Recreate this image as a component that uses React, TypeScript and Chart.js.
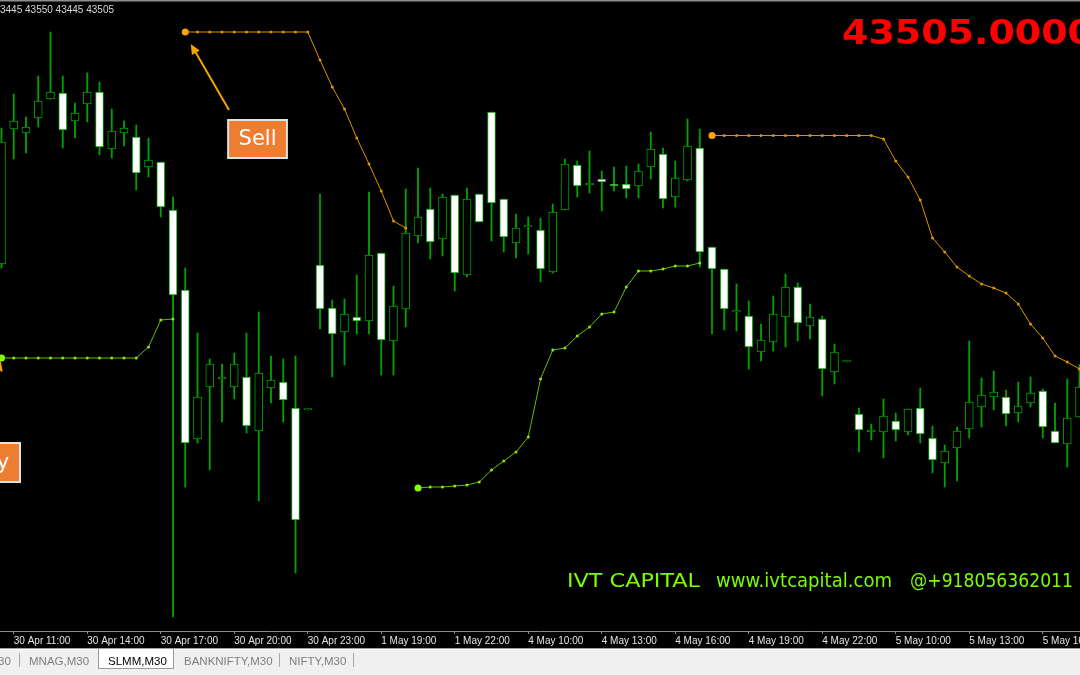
import React, { useEffect, useRef } from "react";
import { Chart, registerables } from "chart.js";

Chart.register(...registerables);

// ---------------- data (SLMM, M30) ----------------
const OPEN = [
  43751, 44021, 44013, 44043, 44081, 44093, 44037, 44071, 44095, 43981,
  44013, 44005, 43945, 43955, 43859, 43699, 43401, 43505, 43521, 43505,
  43525, 43417, 43503, 43515, 43463, 43459, 43749, 43663, 43615, 43645,
  43637, 43773, 43597, 43661, 43807, 43861, 43801, 43889, 43729, 43891,
  44055, 43881, 43793, 43825, 43819, 43735, 43859, 43949, 43909, 43921,
  43911, 43911, 43907, 43945, 43971, 43885, 43919, 43983, 43785, 43741,
  43655, 43647, 43575, 43595, 43645, 43705, 43627, 43641, 43535, 43555,
  43451, 43415, 43415, 43437, 43415, 43463, 43403, 43353, 43383, 43421,
  43465, 43485, 43485, 43453, 43473, 43497, 43417, 43391, 43445,
];
const HIGH = [
  44023, 44091, 44045, 44127, 44215, 44127, 44073, 44133, 44115, 44061,
  44037, 44029, 44003, 43955, 43885, 43743, 43613, 43561, 43551, 43573,
  43613, 43655, 43567, 43561, 43567, 43459, 43891, 43679, 43681, 43729,
  43895, 43773, 43707, 43901, 43943, 43903, 43891, 43889, 43903, 43891,
  44055, 43881, 43851, 43845, 43843, 43871, 43961, 43957, 43977, 43937,
  43945, 43947, 43951, 44015, 43983, 43957, 44041, 44021, 43785, 43741,
  43711, 43677, 43631, 43687, 43731, 43713, 43671, 43647, 43591, 43555,
  43463, 43431, 43481, 43453, 43461, 43503, 43427, 43389, 43425, 43597,
  43523, 43537, 43499, 43515, 43525, 43501, 43473, 43521, 43550,
];
const LOW = [
  43743, 43961, 43973, 44025, 44081, 43983, 44003, 44035, 43969, 43963,
  43987, 43899, 43925, 43845, 43045, 43305, 43393, 43339, 43435, 43481,
  43413, 43277, 43473, 43435, 43133, 43459, 43621, 43525, 43549, 43611,
  43611, 43529, 43529, 43625, 43793, 43761, 43767, 43697, 43725, 43835,
  43797, 43775, 43763, 43771, 43715, 43733, 43859, 43885, 43893, 43857,
  43897, 43883, 43883, 43921, 43863, 43865, 43917, 43745, 43611, 43619,
  43617, 43541, 43557, 43577, 43585, 43597, 43601, 43487, 43511, 43555,
  43375, 43399, 43363, 43397, 43409, 43393, 43333, 43305, 43317, 43403,
  43425, 43459, 43427, 43435, 43465, 43403, 43393, 43345, 43445,
];
const CLOSE = [
  43995, 44037, 44025, 44077, 44095, 44019, 44053, 44095, 43985, 44017,
  44023, 43933, 43959, 43865, 43689, 43393, 43485, 43551, 43525, 43551,
  43427, 43533, 43519, 43479, 43239, 43459, 43661, 43611, 43651, 43637,
  43769, 43599, 43667, 43813, 43845, 43795, 43885, 43733, 43881, 43835,
  43873, 43805, 43823, 43827, 43741, 43855, 43951, 43907, 43913, 43915,
  43907, 43901, 43937, 43981, 43881, 43923, 43987, 43775, 43741, 43661,
  43655, 43585, 43599, 43651, 43705, 43633, 43645, 43541, 43575, 43555,
  43419, 43419, 43447, 43419, 43461, 43411, 43359, 43377, 43417, 43475,
  43489, 43495, 43451, 43467, 43493, 43425, 43393, 43443, 43505,
];

// time axis (bar index of each labelled bar, and its text)
const TICK_INDEX = [1, 7, 13, 19, 25, 31, 37, 43, 49, 55, 61, 67, 73, 79, 85];
const TICK_LABELS = [
  "30 Apr 11:00", "30 Apr 14:00", "30 Apr 17:00", "30 Apr 20:00", "30 Apr 23:00",
  "1 May 19:00", "1 May 22:00", "4 May 10:00", "4 May 13:00", "4 May 16:00",
  "4 May 19:00", "4 May 22:00", "5 May 10:00", "5 May 13:00", "5 May 16:00",
];

// indicator lines (sell stop = orange, buy stop = green)
const SELL1_START = 15;
const SELL1 = [
  44215, 44215, 44215, 44215, 44215, 44215, 44215, 44215, 44215, 44215, 44215,
  44159, 44105, 44061, 44003, 43951, 43897, 43837, 43823,
];
const SELL2_START = 58;
const SELL2 = [
  44008, 44008, 44008, 44008, 44008, 44008, 44008, 44008, 44008, 44008, 44008, 44008, 44008, 44008,
  44001, 43957, 43925, 43879, 43803, 43775, 43745, 43727, 43711, 43703, 43693, 43671, 43631,
  43603, 43567, 43555, 43541,
];
const BUY1_START = 0;
const BUY1 = [
  43563, 43563, 43563, 43563, 43563, 43563, 43563, 43563, 43563, 43563, 43563, 43563,
  43585, 43639, 43641,
];
const BUY2_START = 34;
const BUY2 = [
  43303, 43305, 43305, 43307, 43309, 43315, 43339, 43357, 43375, 43405, 43521, 43579,
  43583, 43607, 43625, 43651, 43655, 43705, 43737, 43737, 43741, 43747, 43747, 43753,
];

// texts
const HEADER_TEXT = "3445 43550 43445 43505";
const LAST_PRICE_TEXT = "43505.0000";
const WATERMARK_TEXTS = ["IVT CAPITAL", "www.ivtcapital.com", "@+918056362011"];
const TAB_TEXTS = ["30", "MNAG,M30", "SLMM,M30", "BANKNIFTY,M30", "NIFTY,M30"];

// annotation anchors in data coordinates (bar index / price)
const SELL_LABEL = { text: "Sell", x0: 18.5, x1: 23.3, yTop: 44039, yBottom: 43963 };
const SELL_ARROW = { x0: 18.57, y0: 44059, x1: 15.45, y1: 44191 };
const BUY_LABEL = { text: "Buy", x0: -3.55, x1: 1.51, yTop: 43393, yBottom: 43315 };
const BUY_ARROW = { x0: -1.8, y0: 43395, x1: -0.05, y1: 43557 };

// ---------------- layout / style ----------------
const W = 1080;
const H = 675;
const BAR0_PX = 1.5;
const BAR_STEP_PX = 12.25;
const PRICE_AT_ZERO_PX = 44279;
const PRICE_PER_PX = 2;

const CANDLE_GREEN = "#00A000";
const ORANGE_LINE = "#D99400";
const ORANGE_DOT = "#FFA500";
const GREEN_LINE = "#62BC00";
const GREEN_DOT = "#8FE600";
const ARROW_ORANGE = "#F5A300";
const BOX_ORANGE = "#ED7D31";

function drawArrow(ctx: CanvasRenderingContext2D, x1: number, y1: number, x2: number, y2: number) {
  const ang = Math.atan2(y2 - y1, x2 - x1);
  const head = 10;
  const hw = 4.5;
  ctx.save();
  ctx.strokeStyle = ARROW_ORANGE;
  ctx.fillStyle = ARROW_ORANGE;
  ctx.lineWidth = 2;
  ctx.beginPath();
  ctx.moveTo(x1, y1);
  ctx.lineTo(x2 - head * 0.7 * Math.cos(ang), y2 - head * 0.7 * Math.sin(ang));
  ctx.stroke();
  const bx = x2 - head * Math.cos(ang);
  const by = y2 - head * Math.sin(ang);
  ctx.beginPath();
  ctx.moveTo(x2, y2);
  ctx.lineTo(bx + hw * Math.sin(ang), by - hw * Math.cos(ang));
  ctx.lineTo(bx - hw * Math.sin(ang), by + hw * Math.cos(ang));
  ctx.closePath();
  ctx.fill();
  ctx.restore();
}

function drawLabelBox(ctx: CanvasRenderingContext2D, xs: any, ys: any, box: any) {
  const l = xs.getPixelForValue(box.x0);
  const r = xs.getPixelForValue(box.x1);
  const t = ys.getPixelForValue(box.yTop);
  const b = ys.getPixelForValue(box.yBottom);
  ctx.save();
  ctx.fillStyle = BOX_ORANGE;
  ctx.fillRect(l, t, r - l, b - t);
  ctx.strokeStyle = "#E2E2E2";
  ctx.lineWidth = 2;
  ctx.strokeRect(l, t, r - l, b - t);
  ctx.fillStyle = "#FFFFFF";
  ctx.font = '21px "DejaVu Sans"';
  ctx.textAlign = "center";
  ctx.textBaseline = "middle";
  ctx.fillText(box.text, (l + r) / 2, (t + b) / 2 + 1);
  ctx.restore();
}

function fitText(ctx: CanvasRenderingContext2D, text: string, x: number, y: number, width: number) {
  const nat = ctx.measureText(text).width;
  ctx.save();
  ctx.translate(x, y);
  ctx.scale(width / nat, 1);
  ctx.fillText(text, 0, 0);
  ctx.restore();
}

const overlayPlugin = {
  id: "mt4Overlay",
  beforeDraw(chart: any) {
    const ctx = chart.ctx;
    ctx.save();
    ctx.fillStyle = "#000000";
    ctx.fillRect(0, 0, chart.width, chart.height);
    ctx.restore();
  },
  afterDatasetsDraw(chart: any) {
    const ctx = chart.ctx as CanvasRenderingContext2D;
    const xs = chart.scales.x;
    const ys = chart.scales.y;
    drawArrow(ctx, xs.getPixelForValue(SELL_ARROW.x0), ys.getPixelForValue(SELL_ARROW.y0),
      xs.getPixelForValue(SELL_ARROW.x1), ys.getPixelForValue(SELL_ARROW.y1));
    drawArrow(ctx, xs.getPixelForValue(BUY_ARROW.x0), ys.getPixelForValue(BUY_ARROW.y0),
      xs.getPixelForValue(BUY_ARROW.x1), ys.getPixelForValue(BUY_ARROW.y1));
    drawLabelBox(ctx, xs, ys, SELL_LABEL);
    drawLabelBox(ctx, xs, ys, BUY_LABEL);
  },
  afterDraw(chart: any) {
    const ctx = chart.ctx as CanvasRenderingContext2D;
    ctx.save();
    // top frame line
    ctx.fillStyle = "#8E8E8E";
    ctx.fillRect(0, 0, W, 1.5);
    // header OHLC
    ctx.fillStyle = "#D6D6D6";
    ctx.font = '10px "Liberation Sans"';
    ctx.textAlign = "left";
    ctx.textBaseline = "alphabetic";
    ctx.fillText(HEADER_TEXT, 0, 12.5);
    // last price
    ctx.fillStyle = "#FF0000";
    ctx.font = 'bold 34px "DejaVu Sans"';
    fitText(ctx, LAST_PRICE_TEXT, 842, 44, 252);
    // watermark
    ctx.fillStyle = "#7CFC00";
    ctx.font = '20px "DejaVu Sans"';
    fitText(ctx, WATERMARK_TEXTS[0], 567, 587, 133);
    fitText(ctx, WATERMARK_TEXTS[1], 716, 587, 176);
    fitText(ctx, WATERMARK_TEXTS[2], 910, 587, 163);
    // tab bar
    ctx.fillStyle = "#F0F0F0";
    ctx.fillRect(0, 648, W, H - 648);
    ctx.fillStyle = "#A0A0A0";
    ctx.fillRect(0, 648, W, 1);
    ctx.fillStyle = "#FFFFFF";
    ctx.fillRect(0, 649, W, 1);
    // selected tab
    ctx.fillStyle = "#FFFFFF";
    ctx.fillRect(98, 649, 76, 20);
    ctx.fillStyle = "#9A9A9A";
    ctx.fillRect(98, 649, 1, 20);
    ctx.fillRect(173, 649, 1, 20);
    ctx.fillRect(98, 668, 76, 1);
    // separators
    ctx.fillStyle = "#A8A8A8";
    [19, 279, 353].forEach((x) => ctx.fillRect(x, 653, 1, 14));
    ctx.font = '11.5px "Liberation Sans"';
    const tabX = [-2, 29, 108, 184, 289];
    TAB_TEXTS.forEach((t, i) => {
      ctx.fillStyle = i === 2 ? "#000000" : "#7E7E7E";
      ctx.fillText(t, tabX[i], 665);
    });
    ctx.restore();
  },
};

export default function App() {
  const ref = useRef<HTMLCanvasElement | null>(null);

  useEffect(() => {
    const canvas = ref.current;
    if (!canvas) return;
    const idx = OPEN.map((_, i) => i);
    const bull = idx.map((i) => CLOSE[i] >= OPEN[i]);
    const wickData = idx.map((i) => ({ x: i, y: [LOW[i], HIGH[i]] }));
    const bodyData = idx.map((i) => ({ x: i, y: [OPEN[i], CLOSE[i]] }));
    const lineData = (start: number, arr: number[]) => arr.map((v, k) => ({ x: start + k, y: v }));
    const lineDs = (label: string, start: number, arr: number[], line: string, dot: string, big: string) => ({
      type: "line" as const,
      label,
      data: lineData(start, arr),
      borderColor: line,
      borderWidth: 1,
      tension: 0,
      pointRadius: (c: any) => (c.dataIndex === 0 ? 3.5 : 1.5),
      pointBackgroundColor: (c: any) => (c.dataIndex === 0 ? big : dot),
      pointBorderWidth: 0,
      order: 0,
    });

    const chart = new Chart(canvas, {
      type: "bar",
      data: {
        datasets: [
          {
            type: "bar",
            label: "wick",
            data: wickData as any,
            backgroundColor: CANDLE_GREEN,
            borderWidth: 0,
            barThickness: 1.2,
            grouped: false,
            order: 3,
          },
          {
            type: "bar",
            label: "body",
            data: bodyData as any,
            backgroundColor: bull.map((b) => (b ? "#000000" : "#FFFFFF")),
            borderColor: CANDLE_GREEN,
            borderWidth: 1,
            borderSkipped: false,
            barThickness: 8,
            minBarLength: 1.5,
            grouped: false,
            order: 2,
          },
          lineDs("sell1", SELL1_START, SELL1, ORANGE_LINE, ORANGE_LINE, ORANGE_DOT),
          lineDs("sell2", SELL2_START, SELL2, ORANGE_LINE, ORANGE_LINE, ORANGE_DOT),
          lineDs("buy1", BUY1_START, BUY1, GREEN_LINE, GREEN_DOT, "#7FFF00"),
          lineDs("buy2", BUY2_START, BUY2, GREEN_LINE, GREEN_DOT, "#7FFF00"),
        ] as any,
      },
      options: {
        responsive: false,
        animation: false,
        devicePixelRatio: 1,
        events: [],
        layout: { autoPadding: false, padding: { top: 3, bottom: 27, left: 0, right: 0 } },
        plugins: {
          legend: { display: false },
          tooltip: { enabled: false },
          title: { display: false },
        },
        scales: {
          x: {
            type: "linear",
            offset: false,
            bounds: "data",
            min: -0.12,
            max: 88.04,
            grid: {
              display: true,
              offset: false,
              drawOnChartArea: false,
              drawTicks: true,
              tickLength: 3,
              color: "#8C8C8C",
            },
            border: { display: true, color: "#8C8C8C", width: 1 },
            afterBuildTicks: (s: any) => {
              s.ticks = TICK_INDEX.map((v) => ({ value: v }));
            },
            afterFit: (s: any) => {
              s.paddingLeft = 0;
              s.paddingRight = 0;
            },
            ticks: {
              autoSkip: false,
              maxRotation: 0,
              minRotation: 0,
              align: "start",
              padding: 1,
              color: "#E4E4E4",
              font: { family: "Liberation Sans", size: 10 },
              callback: (_v: any, i: number) => TICK_LABELS[i] ?? "",
            },
          },
          y: {
            type: "linear",
            display: false,
            beginAtZero: false,
            min: 43020,
            max: 44273,
          },
        },
      } as any,
      plugins: [overlayPlugin],
    });

    // map scales so that bar index / price land on the chart's pixel grid
    for (let k = 0; k < 3; k++) {
      const xs: any = chart.scales.x;
      const ys: any = chart.scales.y;
      const so: any = chart.options.scales;
      so.x.min = (xs.left - BAR0_PX) / BAR_STEP_PX;
      so.x.max = (xs.right - BAR0_PX) / BAR_STEP_PX;
      so.y.max = PRICE_AT_ZERO_PX - PRICE_PER_PX * ys.top;
      so.y.min = PRICE_AT_ZERO_PX - PRICE_PER_PX * ys.bottom;
      chart.update();
    }

    return () => chart.destroy();
  }, []);

  return (
    <div style={{ position: "fixed", left: 0, top: 0, width: W, height: H, background: "#000", overflow: "hidden" }}>
      <canvas ref={ref} width={W} height={H} style={{ display: "block", width: W, height: H }} />
    </div>
  );
}
